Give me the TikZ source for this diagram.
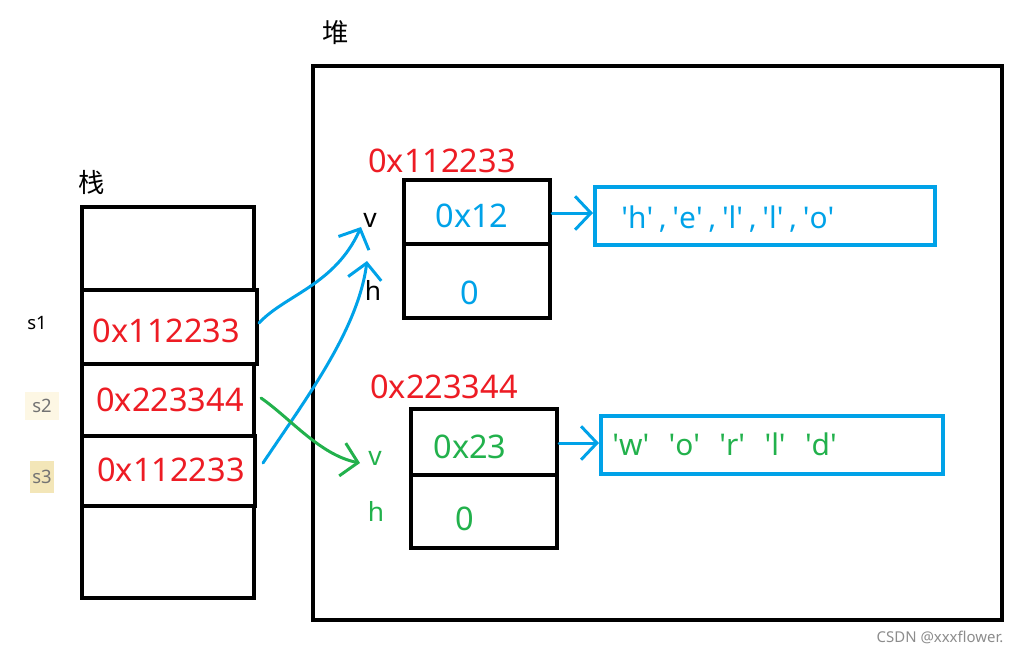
\documentclass[tikz,border=0pt]{standalone}
\usepackage{fontspec}
\setmainfont{Noto Sans}
\newfontfamily\cjk{Noto Sans CJK SC}
\usetikzlibrary{arrows.meta}
\definecolor{pred}{HTML}{ED1C24}
\definecolor{pblue}{HTML}{00A2E8}
\definecolor{pgreen}{HTML}{22B14C}
\definecolor{s2bg}{HTML}{FDF7E4}
\definecolor{s3bg}{HTML}{F3E6B8}
\newcommand{\sq}[1]{\textquotesingle#1\textquotesingle}
\tikzset{
  cell/.style={draw=black, line width=2.3pt, inner sep=0pt},
  bluebox/.style={draw=pblue, line width=2.3pt, inner sep=0pt},
  big/.style={font=\fontsize{18.5}{21}\selectfont, inner sep=0pt},
  mid/.style={font=\fontsize{15}{18}\selectfont, inner sep=0pt},
  chars/.style={font=\fontsize{17}{20}\selectfont, inner sep=0pt},
  small/.style={font=\fontsize{10.5}{12}\selectfont, inner sep=1pt},
  hand/.style={line width=1.7pt, line cap=round, -{Straight Barb[length=9pt,width=19pt,line width=1.7pt]}},
}
\begin{document}
\begin{tikzpicture}[x=0.02cm,y=-0.02cm]
\useasboundingbox (0,0) rectangle (1023,654);
% titles
\node[font=\cjk\fontsize{15}{18}\selectfont] (zhan) at (92,182) {栈};
\node[font=\cjk\fontsize{15}{18}\selectfont] (dui) at (336,33) {堆};
% stack
\node[cell, minimum width=172*0.02cm, minimum height=83*0.02cm] (c0) at (168,248.5) {};
\node[cell, minimum width=172*0.02cm, minimum height=92*0.02cm] (c4) at (168,552) {};
\node[cell, minimum width=172*0.02cm, minimum height=72*0.02cm] (c2) at (168,400) {};
\node[cell, minimum width=175*0.02cm, minimum height=74*0.02cm] (c1) at (169.5,327) {};
\node[cell, minimum width=173*0.02cm, minimum height=70*0.02cm] (c3) at (168.5,471) {};
\node[big, text=pred] (t1) at (166.5,331) {0x112233};
\node[big, text=pred] (t2) at (170,400) {0x223344};
\node[big, text=pred] (t3) at (171,470) {0x112233};
% side labels
\node[small] (s1) at (37,323) {s1};
\node[small, fill=s2bg, text=black!55, minimum width=34*0.02cm, minimum height=28*0.02cm] (s2) at (42,406) {s2};
\node[small, fill=s3bg, text=black!55, minimum width=24*0.02cm, minimum height=32*0.02cm] (s3) at (42,477) {s3};
% heap
\node[cell, minimum width=689*0.02cm, minimum height=554*0.02cm] (heap) at (657.5,343) {};
% object 1
\node[big, text=pred] (a1) at (442,161) {0x112233};
\node[cell, minimum width=146*0.02cm, minimum height=64*0.02cm] (o1t) at (477,212) {};
\node[cell, minimum width=146*0.02cm, minimum height=74*0.02cm] (o1b) at (477,281) {};
\node[big, text=pblue] (o1tt) at (472,216) {0x12};
\node[big, text=pblue] (o1bt) at (470,293) {0};
\node[mid] (v1) at (370,220) {v};
\node[mid] (h1) at (373,290) {h};
\node[bluebox, minimum width=340*0.02cm, minimum height=58*0.02cm] (b1) at (765,216) {};
\node[chars, text=pblue, anchor=west] (b1t) at (621,219) {\sq{h}\hspace{3.2pt},\hspace{3.2pt}\sq{e}\hspace{3.2pt},\hspace{3.2pt}\sq{l}\hspace{3.2pt},\hspace{3.2pt}\sq{l}\hspace{3.2pt},\hspace{3.2pt}\sq{o}};
% object 2
\node[big, text=pred] (a2) at (444,387) {0x223344};
\node[cell, minimum width=146*0.02cm, minimum height=66*0.02cm] (o2t) at (484,442) {};
\node[cell, minimum width=146*0.02cm, minimum height=73*0.02cm] (o2b) at (484,511.5) {};
\node[big, text=pgreen] (o2tt) at (470,447) {0x23};
\node[big, text=pgreen] (o2bt) at (465,519) {0};
\node[mid, text=pgreen] (v2) at (375,458) {v};
\node[mid, text=pgreen] (h2) at (376,511) {h};
\node[bluebox, minimum width=342*0.02cm, minimum height=58*0.02cm] (b2) at (772,445) {};
\node[chars, text=pgreen, anchor=west] (b2t) at (612,444) {\sq{w}\hspace{11pt}\sq{o}\hspace{11pt}\sq{r}\hspace{11pt}\sq{l}\hspace{11pt}\sq{d}};
% pointer arrows
\draw[hand, pblue] (o1t.east |- 0,213) -- (b1.west |- 0,213);
\draw[hand, pblue] (o2t.east |- 0,443) -- (b2.west |- 0,443);
% hand-drawn connectors
\coordinate (p1) at (259,323);
\coordinate (p2) at (261,398);
\coordinate (p3) at (263,463);
\coordinate (q1) at (361,227);
\coordinate (q2) at (367,261);
\coordinate (q3) at (360,463);
\draw[hand, pblue] (p1) .. controls (285,295) and (335,285) .. (q1);
\draw[hand, pblue] (p3) .. controls (305,400) and (358,330) .. (q2);
\draw[hand, pgreen] (p2) .. controls (290,418) and (320,455) .. (q3);
% watermark
\node[font=\fontsize{8.5}{10}\selectfont, text=black!45] (wm) at (940,637) {CSDN @xxxflower.};
\end{tikzpicture}
\end{document}
